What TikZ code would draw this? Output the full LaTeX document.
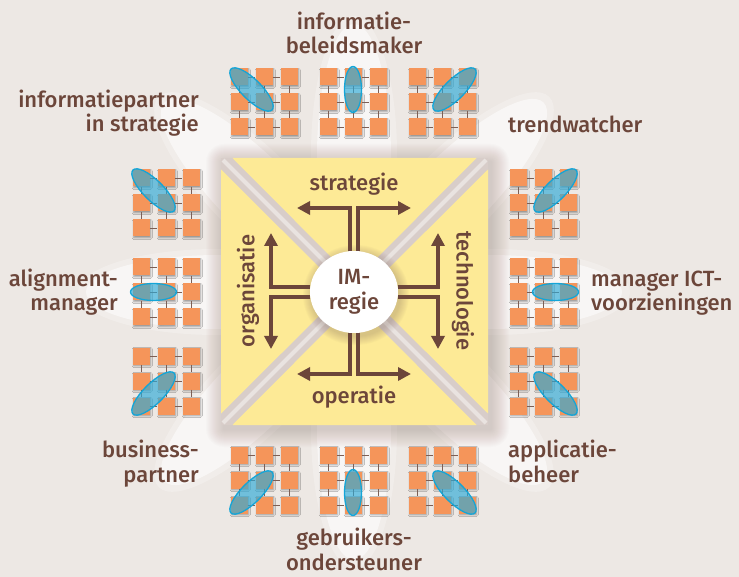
\documentclass[tikz,border=0pt]{standalone}
\usepackage{fontspec}
\setmainfont{Fira Sans}[UprightFont={* Medium}]
\usetikzlibrary{arrows.meta,shapes.geometric,shadows.blur}

\definecolor{paper}{RGB}{237,232,228}
\definecolor{petal}{RGB}{255,255,255}
\definecolor{cellorange}{RGB}{245,149,90}
\definecolor{wire}{RGB}{125,95,85}
\definecolor{ink}{RGB}{108,70,58}
\definecolor{board}{RGB}{253,234,150}
\definecolor{groove}{RGB}{216,205,201}
\definecolor{grooveshine}{RGB}{233,227,224}
\definecolor{shadowtone}{RGB}{120,95,85}
\definecolor{lens}{RGB}{45,170,215}
\definecolor{lensrim}{RGB}{20,165,215}

\tikzset{
  cell/.style={fill=cellorange, minimum size=17pt, inner sep=0pt,
    blur shadow={shadow xshift=1.2pt, shadow yshift=-1.4pt,
      shadow blur radius=1.6pt, shadow opacity=35}},
  wire/.style={draw=wire, line width=0.9pt},
  lens/.style={fill=lens, fill opacity=0.65, draw=lensrim, line width=1.3pt},
  role/.style={text=ink, font=\fontsize{22}{24.5}\selectfont, inner sep=0pt},
  flow/.style={draw=ink, line width=4pt, -{Triangle[length=13pt,width=13pt]}},
}

% 3x3 block of cells; #4,#5 = step from the middle cell to the lens cell
\newcommand{\cellgrid}[5]{
  \foreach \r in {0,1,2}
    \foreach \c in {0,1,2}
      \node[cell] (#1\r\c) at ({#2+25*(\c-1)},{#3+25*(\r-1)}) {};
  \foreach \i in {0,1,2} {
    \draw[wire] (#1\i0) -- (#1\i1) -- (#1\i2);
    \draw[wire] (#10\i) -- (#11\i) -- (#12\i);
  }
  \pgfmathsetmacro{\lensang}{atan2(-(#5),#4)}
  \pgfmathsetmacro{\lenslong}{(#4)*(#5)==0 ? 23 : 29}
  \pgfmathsetmacro{\lensshort}{(#4)*(#5)==0 ? 8.5 : 10}
  \path[lens] ({#2+12.5*(#4)},{#3+12.5*(#5)})
    ellipse[x radius=\lenslong, y radius=\lensshort, rotate=\lensang];
}

\begin{document}
\begin{tikzpicture}[x=1pt, y=-1pt]
  \useasboundingbox[fill=paper] (0,0) rectangle (739,577);

  % petals behind everything
  \foreach \a in {0,45,...,315} {
    \fill[petal, fill opacity=0.25] (354,292) ++(\a:137) ellipse[x radius=139, y radius=43, rotate=-\a];
    \fill[petal, fill opacity=0.55] (354,292) ++(\a:135) ellipse[x radius=133, y radius=37, rotate=-\a];
  }

  % soft shadow under the board
  \foreach \k in {1,...,18}
    \fill[shadowtone, fill opacity=0.015, rounded corners=\k pt]
      ({221-\k+3},{158-\k+4}) rectangle ({488+\k+3},{425+\k+4});

  % board: grooves and four triangles
  \fill[groove] (221,158) rectangle (488,425);
  \draw[grooveshine, line width=4pt] (223,160) -- (486,423);
  \draw[grooveshine, line width=4pt] (486,160) -- (223,423);
  \fill[board] (232.5,158) -- (476.5,158) -- (354.5,280.5) -- cycle;
  \fill[board] (232.5,425) -- (476.5,425) -- (354.5,302.5) -- cycle;
  \fill[board] (221,169.5) -- (221,413.5) -- (343.5,291.5) -- cycle;
  \fill[board] (488,169.5) -- (488,413.5) -- (365.5,291.5) -- cycle;

  % the twelve cell blocks
  \cellgrid{tl}{264}{102}{-1}{-1}
  \cellgrid{tm}{353}{102}{0}{-1}
  \cellgrid{tr}{442}{102}{1}{-1}
  \cellgrid{lt}{166}{203}{-1}{-1}
  \cellgrid{lm}{166}{292}{-1}{0}
  \cellgrid{lb}{166}{381}{-1}{1}
  \cellgrid{rt}{543}{203}{1}{-1}
  \cellgrid{rm}{543}{292}{1}{0}
  \cellgrid{rb}{543}{381}{1}{1}
  \cellgrid{bl}{264}{480}{-1}{1}
  \cellgrid{bm}{353}{480}{0}{1}
  \cellgrid{br}{442}{480}{1}{1}

  % centre disc
  \foreach \k in {1,...,9}
    \fill[shadowtone, fill opacity=0.03] (356,295) ellipse[x radius={44+\k}, y radius={41+\k}];
  \node[ellipse, fill=white, minimum width=88pt, minimum height=82pt, inner sep=0pt,
    role, align=center] (im) at (354,292) {IM-\\regie};

  % arrows out of the disc
  \coordinate (stratL) at (297,208);
  \coordinate (stratR) at (411,208);
  \coordinate (operL) at (297,374);
  \coordinate (operR) at (411,374);
  \coordinate (orgU) at (271,233);
  \coordinate (orgD) at (271,349);
  \coordinate (techU) at (438,233);
  \coordinate (techD) at (438,349);
  \draw[flow] (im.96) |- (stratL);
  \draw[flow] (im.84) |- (stratR);
  \draw[flow] (im.264) |- (operL);
  \draw[flow] (im.276) |- (operR);
  \draw[flow] (im.173) -| (orgU);
  \draw[flow] (im.187) -| (orgD);
  \draw[flow] (im.7) -| (techU);
  \draw[flow] (im.353) -| (techD);

  \node[role] (strategie) at (354,184) {strategie};
  \node[role] (operatie) at (354,397) {operatie};
  \node[role, rotate=90] (organisatie) at (248,291) {organisatie};
  \node[role, rotate=-90] (technologie) at (463,291) {technologie};

  % roles round the blocks (base = last line)
  \node[role, align=center, anchor=base] (beleid) at (354,54) {informatie-\\beleidsmaker};
  \node[role, align=right, anchor=base east] (partner) at (199,132) {informatiepartner\\in strategie};
  \node[role, anchor=base west] (trend) at (508,133) {trendwatcher};
  \node[role, align=right, anchor=base east] (align) at (118,311) {alignment-\\manager};
  \node[role, align=left, anchor=base west] (ict) at (591,311) {manager ICT-\\voorzieningen};
  \node[role, align=right, anchor=base east] (business) at (199,482) {business-\\partner};
  \node[role, align=left, anchor=base west] (beheer) at (508,482) {applicatie-\\beheer};
  \node[role, align=center, anchor=base] (support) at (354,570) {gebruikers-\\ondersteuner};
\end{tikzpicture}
\end{document}
